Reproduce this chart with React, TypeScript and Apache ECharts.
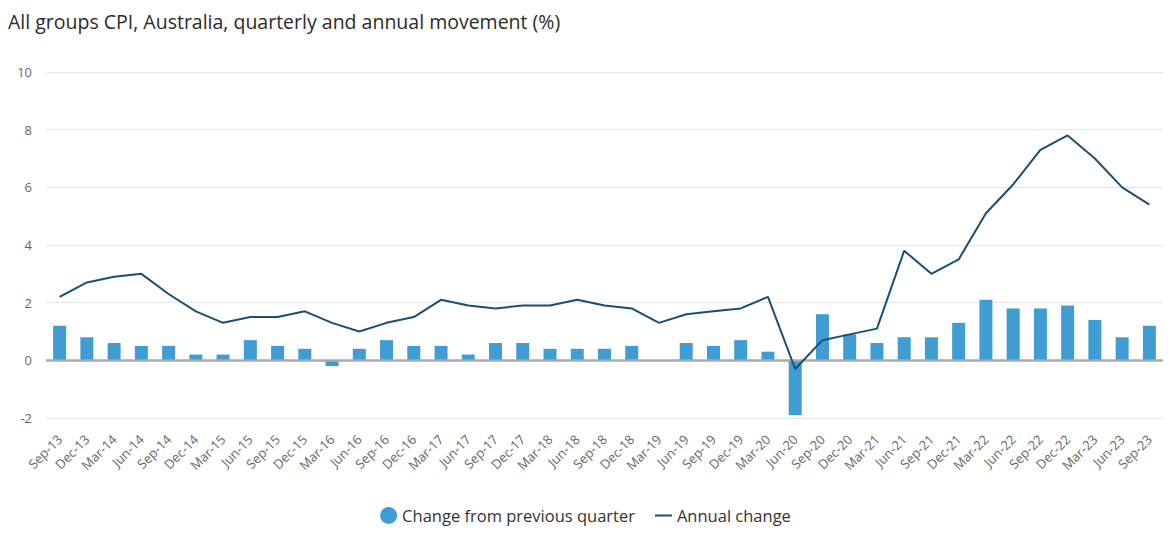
import React, { useEffect, useRef } from "react";
import * as echarts from "echarts";

const categories = [
  "Sep-13", "Dec-13", "Mar-14", "Jun-14", "Sep-14", "Dec-14", "Mar-15", "Jun-15", "Sep-15", "Dec-15",
  "Mar-16", "Jun-16", "Sep-16", "Dec-16", "Mar-17", "Jun-17", "Sep-17", "Dec-17", "Mar-18", "Jun-18",
  "Sep-18", "Dec-18", "Mar-19", "Jun-19", "Sep-19", "Dec-19", "Mar-20", "Jun-20", "Sep-20", "Dec-20",
  "Mar-21", "Jun-21", "Sep-21", "Dec-21", "Mar-22", "Jun-22", "Sep-22", "Dec-22", "Mar-23", "Jun-23",
  "Sep-23",
];

const quarterlyChange = [
  1.2, 0.8, 0.6, 0.5, 0.5, 0.2, 0.2, 0.7, 0.5, 0.4,
  -0.2, 0.4, 0.7, 0.5, 0.5, 0.2, 0.6, 0.6, 0.4, 0.4,
  0.4, 0.5, 0.0, 0.6, 0.5, 0.7, 0.3, -1.9, 1.6, 0.9,
  0.6, 0.8, 0.8, 1.3, 2.1, 1.8, 1.8, 1.9, 1.4, 0.8,
  1.2,
];

const annualChange = [
  2.2, 2.7, 2.9, 3.0, 2.3, 1.7, 1.3, 1.5, 1.5, 1.7,
  1.3, 1.0, 1.3, 1.5, 2.1, 1.9, 1.8, 1.9, 1.9, 2.1,
  1.9, 1.8, 1.3, 1.6, 1.7, 1.8, 2.2, -0.3, 0.7, 0.9,
  1.1, 3.8, 3.0, 3.5, 5.1, 6.1, 7.3, 7.8, 7.0, 6.0,
  5.4,
];

const FONT = "'Open Sans', sans-serif";

export default function App() {
  const ref = useRef<HTMLDivElement>(null);

  useEffect(() => {
    if (!ref.current) return;
    const chart = echarts.init(ref.current, undefined, { renderer: "svg" });
    chart.setOption({
      animation: false,
      textStyle: { fontFamily: FONT },
      title: {
        text: "All groups CPI, Australia, quarterly and annual movement (%)",
        left: -5,
        top: -2,
        textStyle: { fontFamily: FONT, fontSize: 19.5, fontWeight: "normal", color: "#2b2b2b" },
      },
      legend: {
        bottom: 7,
        left: "center",
        itemGap: 20,
        itemWidth: 17,
        itemHeight: 17,
        textStyle: { fontFamily: FONT, fontSize: 16.5, color: "#333333" },
        data: [
          { name: "Change from previous quarter", icon: "circle" },
          {
            name: "Annual change",
            icon: "path://M0,7 L17,7 L17,9 L0,9 Z",
          },
        ],
      },
      grid: { left: 38, right: 0, top: 64, bottom: 118, containLabel: false },
      xAxis: {
        type: "category",
        data: categories,
        offset: 11,
        axisLine: { show: true, lineStyle: { color: "#ccd6eb", width: 1 } },
        axisTick: { show: false },
        axisLabel: {
          interval: 0,
          rotate: 45,
          color: "#666666",
          fontSize: 13,
          fontFamily: FONT,
          margin: 8,
        },
      },
      yAxis: {
        type: "value",
        min: -2,
        max: 10,
        interval: 2,
        axisLine: { show: false },
        axisTick: { show: false },
        axisLabel: { color: "#666666", fontSize: 13, fontFamily: FONT, margin: 14 },
        splitLine: { lineStyle: { color: "#e6e6e6", width: 1 } },
      },
      series: [
        {
          name: "Change from previous quarter",
          type: "bar",
          data: quarterlyChange,
          barWidth: 13,
          itemStyle: { color: "#3f9dd3" },
          markLine: {
            silent: true,
            symbol: "none",
            label: { show: false },
            lineStyle: { color: "#aaaaaa", width: 2.5, type: "solid" },
            emphasis: { disabled: true },
            data: [{ yAxis: 0 }],
          },
        },
        {
          name: "Annual change",
          type: "line",
          data: annualChange,
          symbol: "none",
          lineStyle: { color: "#1b4f72", width: 2 },
          itemStyle: { color: "#1b4f72" },
          z: 5,
        },
      ],
    });
    return () => chart.dispose();
  }, []);

  return <div ref={ref} style={{ width: 1155, height: 528 }} />;
}
